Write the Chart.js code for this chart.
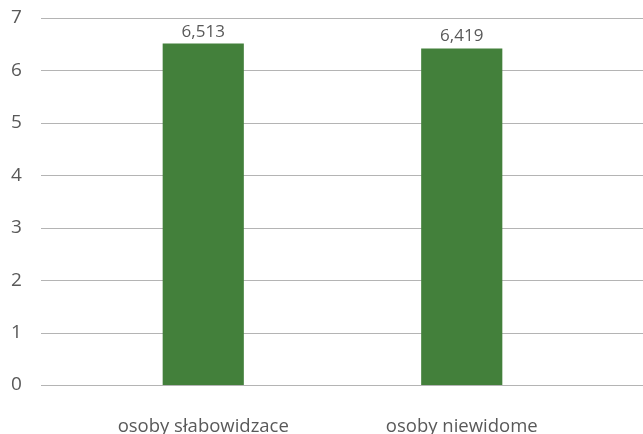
<!DOCTYPE html>
<html>
<head>
<meta charset="utf-8">
<script src="https://cdn.jsdelivr.net/npm/chart.js@4"></script>
<style>
  html, body { margin: 0; padding: 0; background: #fff; overflow: hidden; }
  canvas { display: block; }
</style>
</head>
<body>
<canvas id="chart" width="643" height="434"></canvas>
<script>
"use strict";

const categories = ['osoby słabowidzace', 'osoby niewidome'];
const values = [6.513, 6.419];
const yTicks = [0, 1, 2, 3, 4, 5, 6, 7];

const FONT = '"Open Sans", "Noto Sans", sans-serif';
const TEXT = '#595959';
const GRID = '#b4b4b4';
const BAR = '#43803b';

const fmt = (v) => v.toFixed(3).replace('.', ',');

// horizontal gridlines run a bit wider than the plot area
const gridPlugin = {
    id: 'wideGrid',
    beforeDatasetsDraw(chart) {
        const ctx = chart.ctx;
        const y = chart.scales.y;
        ctx.save();
        ctx.strokeStyle = GRID;
        ctx.lineWidth = 1;
        yTicks.forEach((t) => {
            const py = Math.round(y.getPixelForValue(t)) + 0.5;
            ctx.beginPath();
            ctx.moveTo(41, py);
            ctx.lineTo(chart.width, py);
            ctx.stroke();
        });
        ctx.restore();
    }
};

// value labels above each bar
const labelPlugin = {
    id: 'barLabels',
    afterDatasetsDraw(chart) {
        const ctx = chart.ctx;
        const meta = chart.getDatasetMeta(0);
        ctx.save();
        ctx.font = '17px ' + FONT;
        ctx.fillStyle = TEXT;
        ctx.textAlign = 'center';
        ctx.textBaseline = 'alphabetic';
        meta.data.forEach((bar, i) => {
            ctx.fillText(fmt(values[i]), bar.x, bar.y - 7);
        });
        ctx.restore();
    }
};

new Chart(document.getElementById('chart'), {
    type: 'bar',
    data: {
        labels: categories,
        datasets: [{
            data: values,
            backgroundColor: BAR,
            categoryPercentage: 1,
            barPercentage: 0.314
        }]
    },
    options: {
        responsive: false,
        animation: false,
        layout: { padding: { top: 18, right: 52, left: 11, bottom: 0 } },
        plugins: {
            legend: { display: false },
            tooltip: { enabled: false }
        },
        scales: {
            y: {
                min: 0,
                max: 7,
                afterBuildTicks: (axis) => {
                    axis.ticks = yTicks.map((v) => ({ value: v }));
                },
                afterFit: (axis) => { axis.width = 63; },
                grid: { display: false, drawTicks: false },
                border: { display: false },
                ticks: {
                    color: TEXT,
                    padding: 0,
                    crossAlign: 'far',
                    font: { family: FONT, size: 19 }
                }
            },
            x: {
                afterFit: (axis) => { axis.height = 49; },
                grid: { display: false, drawTicks: false },
                border: { display: false },
                ticks: {
                    color: TEXT,
                    padding: 31,
                    font: { family: FONT, size: 18.5 }
                }
            }
        }
    },
    plugins: [gridPlugin, labelPlugin]
});
</script>
</body>
</html>
